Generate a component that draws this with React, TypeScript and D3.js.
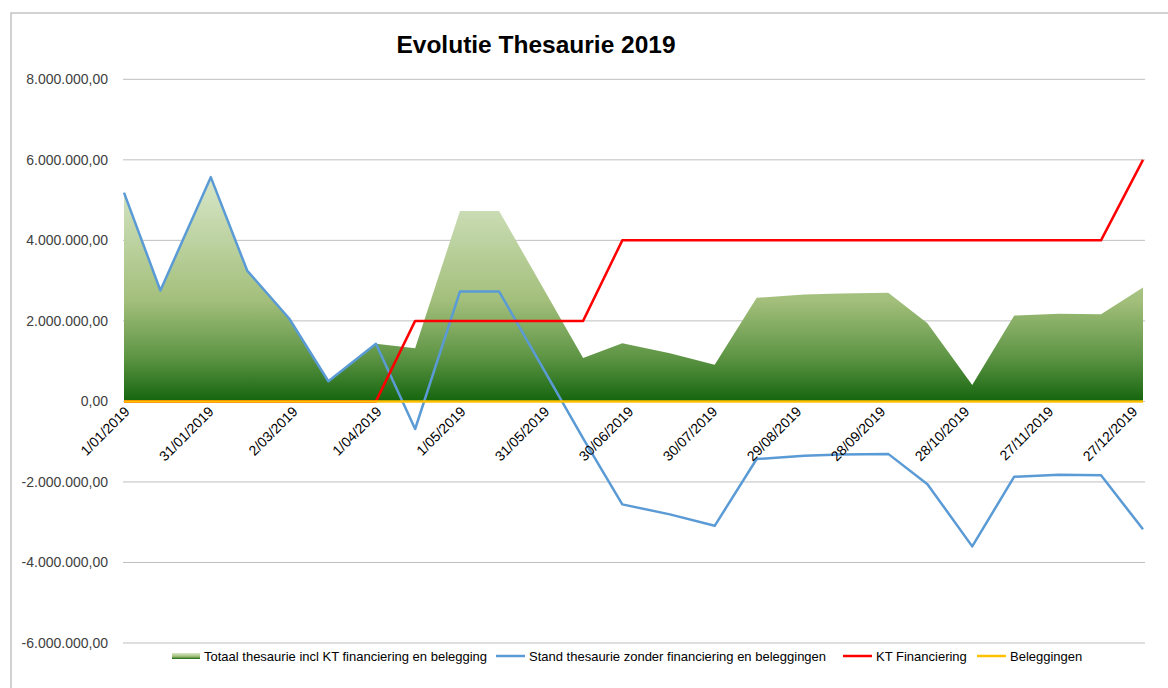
import React from "react";
import * as d3 from "d3";

const dates = [
  "1/01/2019", "14/01/2019", "1/02/2019", "14/02/2019", "1/03/2019", "15/03/2019",
  "1/04/2019", "15/04/2019", "1/05/2019", "15/05/2019", "14/06/2019", "28/06/2019",
  "15/07/2019", "31/07/2019", "15/08/2019", "1/09/2019", "14/09/2019", "1/10/2019",
  "15/10/2019", "31/10/2019", "15/11/2019", "1/12/2019", "16/12/2019", "31/12/2019",
];

const totaal = [
  5185000, 2755000, 5570000, 3250000, 2060000, 500000,
  1430000, 1318000, 4728000, 4728000, 1080000, 1443000,
  1194000, 913000, 2572000, 2654000, 2680000, 2697000,
  1940000, 408000, 2132000, 2180000, 2164000, 2828000,
];

const stand = [
  5185000, 2755000, 5570000, 3250000, 2060000, 500000,
  1430000, -685000, 2728000, 2728000, -915000, -2557000,
  -2806000, -3090000, -1430000, -1350000, -1320000, -1303000,
  -2055000, -3600000, -1870000, -1820000, -1836000, -3175000,
];

const ktFinanciering = [
  0, 0, 0, 0, 0, 0,
  0, 2000000, 2000000, 2000000, 2000000, 4000000,
  4000000, 4000000, 4000000, 4000000, 4000000, 4000000,
  4000000, 4000000, 4000000, 4000000, 4000000, 6000000,
];

const beleggingen = [
  0, 0, 0, 0, 0, 0, 0, 0, 0, 0, 0, 0,
  0, 0, 0, 0, 0, 0, 0, 0, 0, 0, 0, 0,
];

const xTickLabels = [
  "1/01/2019", "31/01/2019", "2/03/2019", "1/04/2019", "1/05/2019", "31/05/2019",
  "30/06/2019", "30/07/2019", "29/08/2019", "28/09/2019", "28/10/2019", "27/11/2019", "27/12/2019",
];

const yTicks = [8000000, 6000000, 4000000, 2000000, 0, -2000000, -4000000, -6000000];

const seriesNames = [
  "Totaal thesaurie incl KT financiering en belegging",
  "Stand thesaurie zonder financiering en beleggingen",
  "KT Financiering",
  "Beleggingen",
];

const W = 1168;
const H = 688;
const FONT = "'Liberation Sans', Arial, sans-serif";

const parse = d3.timeParse("%d/%m/%Y");

export default function App() {
  const x = d3
    .scaleTime()
    .domain([parse("1/01/2019")!, parse("31/12/2019")!])
    .range([124, 1143]);
  const y = d3.scaleLinear().domain([-6000000, 8000000]).range([643, 79.3]);

  const pts = dates.map((d, i) => ({
    date: parse(d)!,
    totaal: totaal[i],
    stand: stand[i],
    kt: ktFinanciering[i],
    bel: beleggingen[i],
  }));

  const area = d3
    .area<any>()
    .x((d) => x(d.date))
    .y0(() => y(0))
    .y1((d) => y(d.totaal));
  const lineOf = (key: string) =>
    d3
      .line<any>()
      .x((d) => x(d.date))
      .y((d) => y(d[key]))(pts) || "";

  const fmtY = (v: number) => {
    const s = d3.format(",.2f")(Math.abs(v));
    const nl = s.replace(/,/g, "#").replace(".", ",").replace(/#/g, ".");
    return (v < 0 ? "-" : "") + nl;
  };

  const legendItems = [
    { kind: "area", x: 172, tx: 204 },
    { kind: "line", color: "#5b9bd5", x: 496, tx: 529 },
    { kind: "line", color: "#ff0000", x: 843, tx: 876 },
    { kind: "line", color: "#ffc000", x: 977, tx: 1010 },
  ];
  const legendY = 656;

  return (
    <div style={{ position: "fixed", left: 0, top: 0 }}>
      <svg width={W} height={H} style={{ display: "block", background: "#fff" }}>
        <defs>
          <linearGradient id="areaGrad" x1="0" y1="0" x2="0" y2="1">
            <stop offset="0%" stopColor="#d8e7c9" />
            <stop offset="55%" stopColor="#a3bf7b" />
            <stop offset="80%" stopColor="#5e9545" />
            <stop offset="100%" stopColor="#15650e" />
          </linearGradient>
        </defs>
        <rect x={11} y={13} width={W + 20} height={H + 20} fill="#fff" stroke="#a6a6a6" strokeWidth={1} />
        <text
          x={536}
          y={53}
          textAnchor="middle"
          fontFamily={FONT}
          fontWeight="bold"
          fontSize={24.5}
          fill="#000"
        >
          Evolutie Thesaurie 2019
        </text>
        {yTicks.map((t) => (
          <g key={t}>
            <line x1={123} x2={1145} y1={y(t)} y2={y(t)} stroke="#bfbfbf" strokeWidth={1} />
            <text
              x={108}
              y={y(t)}
              dy="0.35em"
              textAnchor="end"
              fontFamily={FONT}
              fontSize={14}
              fill="#404040"
            >
              {fmtY(t)}
            </text>
          </g>
        ))}
        <path d={area(pts) || ""} fill="url(#areaGrad)" />
        <path d={lineOf("stand")} fill="none" stroke="#5b9bd5" strokeWidth={2.5} strokeLinejoin="round" />
        <path d={lineOf("kt")} fill="none" stroke="#ff0000" strokeWidth={2.5} strokeLinejoin="round" />
        <path d={lineOf("bel")} fill="none" stroke="#ffc000" strokeWidth={2.5} strokeLinejoin="round" />
        {xTickLabels.map((lab) => {
          const tx = x(parse(lab)!);
          return (
            <text
              key={lab}
              transform={`translate(${tx + 3},${409}) rotate(-45)`}
              textAnchor="end"
              dy="0.35em"
              fontFamily={FONT}
              fontSize={14}
              fill="#000"
            >
              {lab}
            </text>
          );
        })}
        {legendItems.map((it, i) => (
          <g key={i}>
            {it.kind === "area" ? (
              <rect x={it.x} y={legendY - 3} width={28} height={6} fill="url(#areaGrad)" />
            ) : (
              <line x1={it.x} x2={it.x + 29} y1={legendY} y2={legendY} stroke={it.color} strokeWidth={2.5} />
            )}
            <text x={it.tx} y={legendY} dy="0.35em" fontFamily={FONT} fontSize={13} fill="#000">
              {seriesNames[i]}
            </text>
          </g>
        ))}
      </svg>
    </div>
  );
}
